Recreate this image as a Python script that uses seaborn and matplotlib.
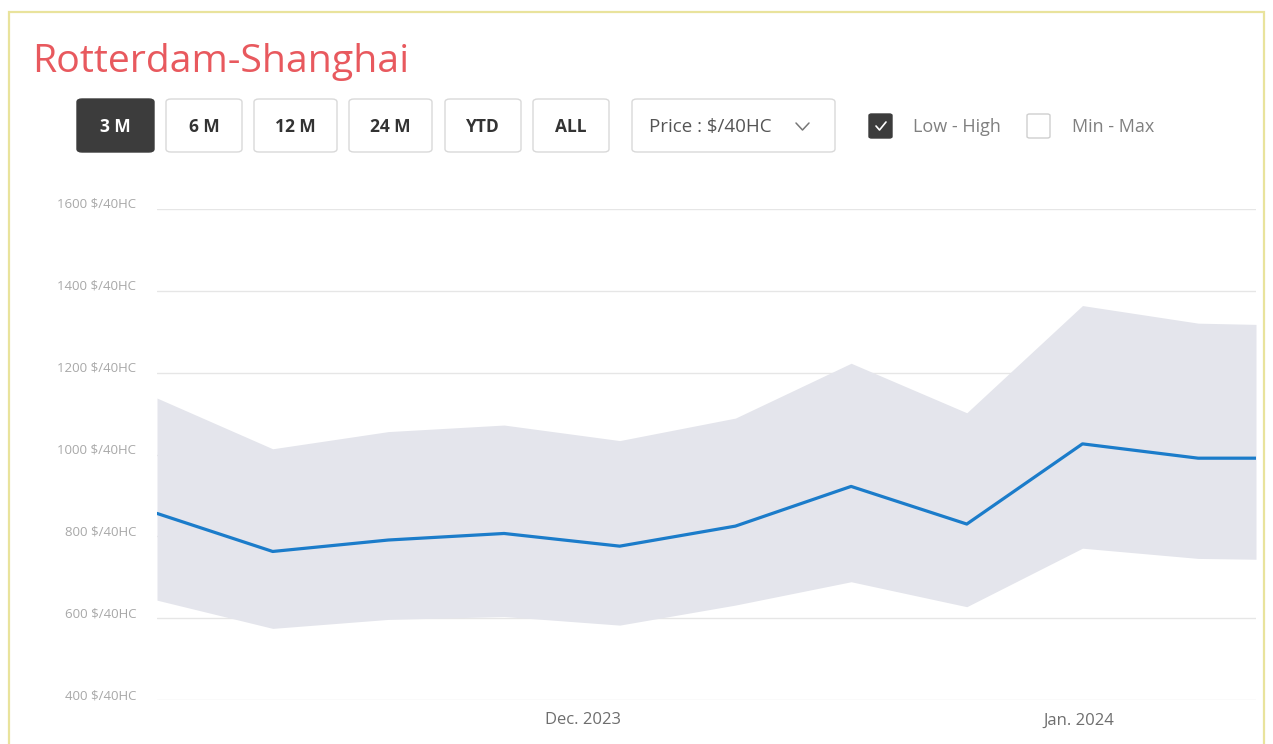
import matplotlib
matplotlib.use("Agg")
import matplotlib.pyplot as plt
import matplotlib.transforms as mtransforms
from matplotlib.patches import FancyBboxPatch, Rectangle
import numpy as np
import pandas as pd
import seaborn as sns

# ---------------- data ----------------
dates = ["2023-11-06 00:00", "2023-11-13 00:00", "2023-11-20 00:00", "2023-11-27 00:00",
         "2023-12-04 00:00", "2023-12-11 00:00", "2023-12-18 00:00", "2023-12-25 00:00",
         "2024-01-01 00:00", "2024-01-08 00:00", "2024-01-11 12:00"]
avg_price = [856, 763, 791, 807, 776, 825, 922, 830, 1026, 991, 991]
low_price = [644, 575, 597, 604, 583, 632, 689, 628, 771, 746, 744]
high_price = [1138, 1014, 1056, 1072, 1034, 1089, 1223, 1102, 1364, 1321, 1318]

y_ticks = [400, 600, 800, 1000, 1200, 1400, 1600]
y_tick_labels = ["400 $/40HC", "600 $/40HC", "800 $/40HC", "1000 $/40HC",
                 "1200 $/40HC", "1400 $/40HC", "1600 $/40HC"]
x_tick_dates = ["2023-12-01 18:00", "2023-12-31 18:00"]
x_tick_labels = ["Dec. 2023", "Jan. 2024"]

title_text = "Rotterdam-Shanghai"
range_buttons = ["3 M", "6 M", "12 M", "24 M", "YTD", "ALL"]
dropdown_text = "Price : $/40HC"
toggle_labels = ["Low - High", "Min - Max"]

# ---------------- style ----------------
sns.set_theme(style="white")
plt.rcParams["font.family"] = ["Open Sans", "DejaVu Sans"]

W, H = 1273, 744
fig = plt.figure(figsize=(W / 100, H / 100), dpi=100)
fig.patch.set_facecolor("white")


def fx(x):
    return x / W


def fy(y):
    return 1 - y / H


# outer yellow border
fig.add_artist(Rectangle((fx(9), fy(760)), fx(1264) - fx(9), fy(12) - fy(760),
                         transform=fig.transFigure, fill=False,
                         edgecolor="#e9e39c", linewidth=1.6))

# title
fig.text(fx(32), fy(62), title_text, color="#e8595e", fontsize=28.3,
         ha="left", va="center")

# range buttons
btn_boxes = [(77, 154), (166, 242), (254, 337), (349, 432), (445, 521), (533, 609)]
for i, (label, (x0, x1)) in enumerate(zip(range_buttons, btn_boxes)):
    active = i == 0
    fig.add_artist(FancyBboxPatch((fx(x0), fy(152)), fx(x1) - fx(x0), fy(99) - fy(152),
                                  boxstyle="round,pad=0,rounding_size=0.004",
                                  transform=fig.transFigure,
                                  facecolor="#3c3c3c" if active else "white",
                                  edgecolor="#3c3c3c" if active else "#d9d9d9",
                                  linewidth=1.0))
    fig.text(fx((x0 + x1) / 2), fy(127), label,
             color="white" if active else "#333333",
             fontsize=12.5, fontweight="bold", ha="center", va="center",
             fontstretch="condensed")

# dropdown
fig.add_artist(FancyBboxPatch((fx(632), fy(152)), fx(835) - fx(632), fy(99) - fy(152),
                              boxstyle="round,pad=0,rounding_size=0.004",
                              transform=fig.transFigure, facecolor="white",
                              edgecolor="#d9d9d9", linewidth=1.0))
fig.text(fx(649), fy(127), dropdown_text, color="#555555", fontsize=13.5,
         ha="left", va="center")
fig.add_artist(plt.Line2D([fx(796), fx(802.5), fx(809)], [fy(123), fy(130), fy(123)],
                          transform=fig.transFigure, color="#777777", linewidth=1.1))

# checkboxes
fig.add_artist(FancyBboxPatch((fx(869), fy(138)), fx(892) - fx(869), fy(114) - fy(138),
                              boxstyle="round,pad=0,rounding_size=0.002",
                              transform=fig.transFigure, facecolor="#3c3c3c",
                              edgecolor="#3c3c3c", linewidth=1.0))
fig.add_artist(plt.Line2D([fx(876), fx(879.5), fx(886)], [fy(126), fy(130), fy(122)],
                          transform=fig.transFigure, color="white", linewidth=1.2))
fig.text(fx(913), fy(127), toggle_labels[0], color="#808080", fontsize=13,
         ha="left", va="center")
fig.add_artist(FancyBboxPatch((fx(1027), fy(138)), fx(1050) - fx(1027), fy(114) - fy(138),
                              boxstyle="round,pad=0,rounding_size=0.002",
                              transform=fig.transFigure, facecolor="white",
                              edgecolor="#cfcfcf", linewidth=1.0))
fig.text(fx(1072), fy(127), toggle_labels[1], color="#808080", fontsize=13,
         ha="left", va="center")

# ---------------- chart ----------------
df = pd.DataFrame({
    "date": pd.to_datetime(dates, format="%Y-%m-%d %H:%M"),
    "avg": avg_price,
    "low": low_price,
    "high": high_price,
})

ax = fig.add_axes([fx(157), fy(700), fx(1256) - fx(157), fy(209) - fy(700)])
ax.set_facecolor("none")

ax.fill_between(df["date"], df["low"], df["high"], color="#e4e5ec", linewidth=0,
                zorder=2)
sns.lineplot(data=df, x="date", y="avg", ax=ax, color="#1b7cca", linewidth=2.3,
             zorder=3)

ax.set_xlim(df["date"].iloc[0], df["date"].iloc[-1])
ax.set_ylim(y_ticks[0], y_ticks[-1])
ax.set_yticks(y_ticks)
ax.set_yticklabels(y_tick_labels)
ax.set_xticks(pd.to_datetime(x_tick_dates, format="%Y-%m-%d %H:%M"))
ax.set_xticklabels(x_tick_labels)

ax.grid(axis="y", color="#e6e6e6", linewidth=1.0, zorder=1)
ax.grid(axis="x", visible=False)
ax.set_axisbelow(True)
for s in ax.spines.values():
    s.set_visible(False)
ax.set_xlabel("")
ax.set_ylabel("")
ax.tick_params(axis="y", length=0, pad=15, labelsize=9.5, labelcolor="#a8a8a8")
ax.tick_params(axis="x", length=0, pad=9, labelsize=12, labelcolor="#6e6e6e")

offset = mtransforms.ScaledTranslation(0, 6 / 100, fig.dpi_scale_trans)
for lab in ax.get_yticklabels():
    lab.set_transform(lab.get_transform() + offset)

fig.savefig("out.png", dpi=100, facecolor="white")
